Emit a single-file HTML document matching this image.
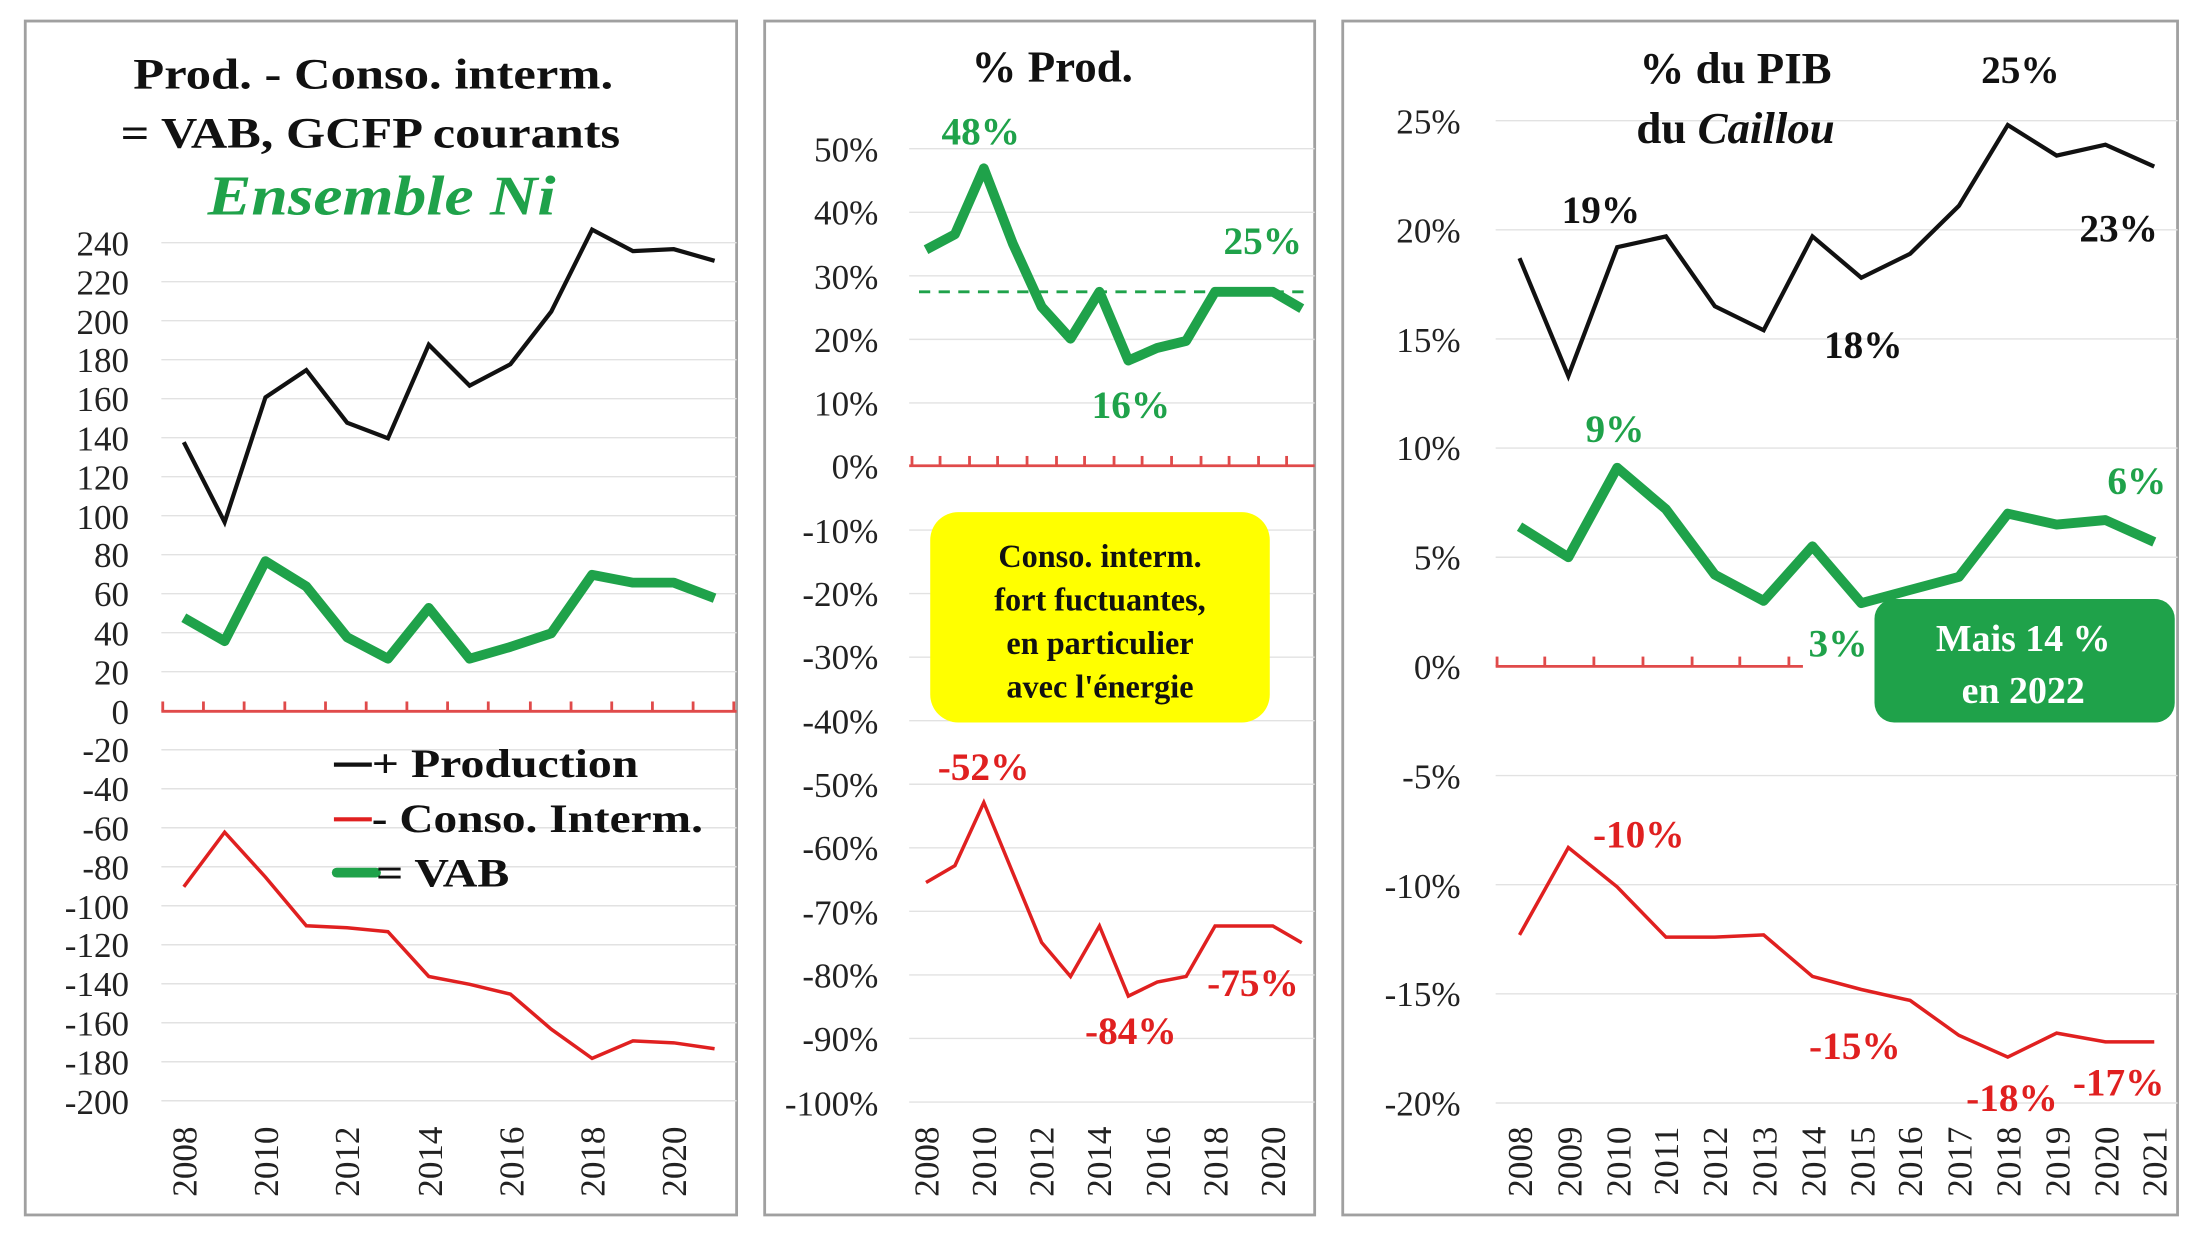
<!DOCTYPE html>
<html><head><meta charset="utf-8"><style>
html,body{margin:0;padding:0;background:#fff;}
svg{display:block;}
text{font-family:"Liberation Serif",serif;}
</style></head><body>
<svg width="2200" height="1236" viewBox="0 0 1568 881" preserveAspectRatio="none" xmlns="http://www.w3.org/2000/svg">
<rect width="1568" height="881" fill="#fff"/>
<rect x="18" y="15" width="507" height="851" fill="none" stroke="#a0a0a0" stroke-width="2"/>
<rect x="545" y="15" width="392" height="851" fill="none" stroke="#a0a0a0" stroke-width="2"/>
<rect x="957" y="15" width="595" height="851" fill="none" stroke="#a0a0a0" stroke-width="2"/>

<!-- ===== Panel 1 ===== -->
<g stroke="#e2e2e2" stroke-width="1">
<line x1="115" x2="525" y1="173" y2="173"/><line x1="115" x2="525" y1="200.8" y2="200.8"/><line x1="115" x2="525" y1="228.6" y2="228.6"/><line x1="115" x2="525" y1="256.4" y2="256.4"/><line x1="115" x2="525" y1="284.2" y2="284.2"/><line x1="115" x2="525" y1="312" y2="312"/><line x1="115" x2="525" y1="339.8" y2="339.8"/><line x1="115" x2="525" y1="367.6" y2="367.6"/><line x1="115" x2="525" y1="395.4" y2="395.4"/><line x1="115" x2="525" y1="423.2" y2="423.2"/><line x1="115" x2="525" y1="451" y2="451"/><line x1="115" x2="525" y1="478.8" y2="478.8"/><line x1="115" x2="525" y1="534.4" y2="534.4"/><line x1="115" x2="525" y1="562.2" y2="562.2"/><line x1="115" x2="525" y1="590" y2="590"/><line x1="115" x2="525" y1="617.8" y2="617.8"/><line x1="115" x2="525" y1="645.6" y2="645.6"/><line x1="115" x2="525" y1="673.4" y2="673.4"/><line x1="115" x2="525" y1="701.2" y2="701.2"/><line x1="115" x2="525" y1="729" y2="729"/><line x1="115" x2="525" y1="756.8" y2="756.8"/><line x1="115" x2="525" y1="784.6" y2="784.6"/>
</g>
<g stroke="#e04a4a" stroke-width="2">
<line x1="115" x2="525" y1="507" y2="507"/>
<line x1="116" x2="116" y1="500" y2="507"/><line x1="145" x2="145" y1="500" y2="507"/><line x1="174" x2="174" y1="500" y2="507"/><line x1="203" x2="203" y1="500" y2="507"/><line x1="232" x2="232" y1="500" y2="507"/><line x1="261" x2="261" y1="500" y2="507"/><line x1="290" x2="290" y1="500" y2="507"/><line x1="319" x2="319" y1="500" y2="507"/><line x1="348" x2="348" y1="500" y2="507"/><line x1="378" x2="378" y1="500" y2="507"/><line x1="407" x2="407" y1="500" y2="507"/><line x1="436" x2="436" y1="500" y2="507"/><line x1="465" x2="465" y1="500" y2="507"/><line x1="494" x2="494" y1="500" y2="507"/><line x1="523" x2="523" y1="500" y2="507"/>
</g>
<g font-size="25" text-anchor="end" fill="#222">
<text x="92" y="182">240</text><text x="92" y="210">220</text><text x="92" y="238">200</text><text x="92" y="265">180</text><text x="92" y="293">160</text><text x="92" y="321">140</text><text x="92" y="349">120</text><text x="92" y="377">100</text><text x="92" y="404">80</text><text x="92" y="432">60</text><text x="92" y="460">40</text><text x="92" y="488">20</text><text x="92" y="516">0</text><text x="92" y="543">-20</text><text x="92" y="571">-40</text><text x="92" y="599">-60</text><text x="92" y="627">-80</text><text x="92" y="655">-100</text><text x="92" y="682">-120</text><text x="92" y="710">-140</text><text x="92" y="738">-160</text><text x="92" y="766">-180</text><text x="92" y="794">-200</text>
</g>
<g font-size="25" fill="#222">
<text transform="translate(140,803) rotate(-90)" text-anchor="end">2008</text>
<text transform="translate(198,803) rotate(-90)" text-anchor="end">2010</text>
<text transform="translate(256,803) rotate(-90)" text-anchor="end">2012</text>
<text transform="translate(315,803) rotate(-90)" text-anchor="end">2014</text>
<text transform="translate(373,803) rotate(-90)" text-anchor="end">2016</text>
<text transform="translate(431,803) rotate(-90)" text-anchor="end">2018</text>
<text transform="translate(489,803) rotate(-90)" text-anchor="end">2020</text>
</g>
<polyline fill="none" stroke="#111" stroke-width="3" points="131,315.2 160.1,372.2 189.2,283.2 218.3,263.8 247.4,301.3 276.5,312.4 305.6,245.7 334.7,274.9 363.8,259.6 392.9,222.1 422,163.7 451.1,179 480.2,177.6 509.3,185.9"/>
<polyline fill="none" stroke="#1fa24a" stroke-width="7" stroke-linejoin="round" points="131,440.3 160.1,457 189.2,400 218.3,418 247.4,454.2 276.5,469.5 305.6,433.3 334.7,469.5 363.8,461.1 392.9,451.4 422,409.7 451.1,415.3 480.2,415.3 509.3,426.4"/>
<polyline fill="none" stroke="#e02020" stroke-width="2.5" points="131,632.1 160.1,593.2 189.2,625.2 218.3,659.9 247.4,661.3 276.5,664.1 305.6,696 334.7,701.6 363.8,708.6 392.9,733.6 422,754.4 451.1,741.9 480.2,743.3 509.3,747.5"/>
<g font-size="31" font-weight="bold" fill="#111">
<text x="95" y="63" textLength="342" lengthAdjust="spacingAndGlyphs">Prod.  - Conso. interm.</text>
<text x="86" y="105" textLength="356" lengthAdjust="spacingAndGlyphs">= VAB, GCFP courants</text>
</g>
<text x="148" y="153" font-size="40" font-weight="bold" font-style="italic" fill="#1fa24a" textLength="248" lengthAdjust="spacingAndGlyphs">Ensemble Ni</text>
<line x1="238" x2="265" y1="545" y2="545" stroke="#111" stroke-width="3"/>
<line x1="238" x2="265" y1="584" y2="584" stroke="#e02020" stroke-width="3"/>
<line x1="240" x2="268" y1="622" y2="622" stroke="#1fa24a" stroke-width="7" stroke-linecap="round"/>
<g font-size="29" font-weight="bold" fill="#111">
<text x="265" y="554" textLength="190" lengthAdjust="spacingAndGlyphs">+ Production</text>
<text x="265" y="593" textLength="236" lengthAdjust="spacingAndGlyphs">- Conso. Interm.</text>
<text x="268" y="632" textLength="95" lengthAdjust="spacingAndGlyphs">= VAB</text>
</g>

<!-- ===== Panel 2 ===== -->
<g stroke="#e2e2e2" stroke-width="1">
<line x1="648" x2="937" y1="106" y2="106"/><line x1="648" x2="937" y1="151.3" y2="151.3"/><line x1="648" x2="937" y1="196.6" y2="196.6"/><line x1="648" x2="937" y1="241.9" y2="241.9"/><line x1="648" x2="937" y1="287.2" y2="287.2"/><line x1="648" x2="937" y1="377.8" y2="377.8"/><line x1="648" x2="937" y1="423.1" y2="423.1"/><line x1="648" x2="937" y1="468.4" y2="468.4"/><line x1="648" x2="937" y1="513.7" y2="513.7"/><line x1="648" x2="937" y1="559" y2="559"/><line x1="648" x2="937" y1="604.3" y2="604.3"/><line x1="648" x2="937" y1="649.6" y2="649.6"/><line x1="648" x2="937" y1="694.9" y2="694.9"/><line x1="648" x2="937" y1="740.2" y2="740.2"/><line x1="648" x2="937" y1="785.5" y2="785.5"/>
</g>
<g stroke="#e04a4a" stroke-width="2">
<line x1="648" x2="937" y1="332" y2="332"/>
<line x1="650" x2="650" y1="325" y2="332"/><line x1="670" x2="670" y1="325" y2="332"/><line x1="691" x2="691" y1="325" y2="332"/><line x1="711" x2="711" y1="325" y2="332"/><line x1="732" x2="732" y1="325" y2="332"/><line x1="753" x2="753" y1="325" y2="332"/><line x1="773" x2="773" y1="325" y2="332"/><line x1="794" x2="794" y1="325" y2="332"/><line x1="814" x2="814" y1="325" y2="332"/><line x1="835" x2="835" y1="325" y2="332"/><line x1="856" x2="856" y1="325" y2="332"/><line x1="876" x2="876" y1="325" y2="332"/><line x1="897" x2="897" y1="325" y2="332"/><line x1="917" x2="917" y1="325" y2="332"/>
</g>
<g font-size="25" text-anchor="end" fill="#222">
<text x="626" y="115">50%</text><text x="626" y="160">40%</text><text x="626" y="206">30%</text><text x="626" y="251">20%</text><text x="626" y="296">10%</text><text x="626" y="341">0%</text><text x="626" y="387">-10%</text><text x="626" y="432">-20%</text><text x="626" y="477">-30%</text><text x="626" y="523">-40%</text><text x="626" y="568">-50%</text><text x="626" y="613">-60%</text><text x="626" y="659">-70%</text><text x="626" y="704">-80%</text><text x="626" y="749">-90%</text><text x="626" y="795">-100%</text>
</g>
<g font-size="25" fill="#222">
<text transform="translate(669,803) rotate(-90)" text-anchor="end">2008</text>
<text transform="translate(710,803) rotate(-90)" text-anchor="end">2010</text>
<text transform="translate(751,803) rotate(-90)" text-anchor="end">2012</text>
<text transform="translate(792,803) rotate(-90)" text-anchor="end">2014</text>
<text transform="translate(834,803) rotate(-90)" text-anchor="end">2016</text>
<text transform="translate(875,803) rotate(-90)" text-anchor="end">2018</text>
<text transform="translate(916,803) rotate(-90)" text-anchor="end">2020</text>
</g>
<line x1="655" x2="930" y1="208" y2="208" stroke="#1fa24a" stroke-width="2" stroke-dasharray="8,6"/>
<polyline fill="none" stroke="#1fa24a" stroke-width="7" stroke-linejoin="round" points="660,178 680.6,167 701.2,120 721.8,173.5 742.4,218.7 763,241.4 783.6,208 804.2,257 824.8,248 845.4,243 866,208 886.6,208 907.2,208 927.8,220"/>
<polyline fill="none" stroke="#e02020" stroke-width="2.5" points="660,629 680.6,617 701.2,572 721.8,622 742.4,671.8 763,696 783.6,660 804.2,710 824.8,700 845.4,696 866,660 886.6,660 907.2,660 927.8,672"/>
<g font-size="28" font-weight="bold" fill="#1fa24a" text-anchor="middle">
<text x="699" y="103">48%</text><text x="806" y="298">16%</text><text x="900" y="181">25%</text>
</g>
<g font-size="28" font-weight="bold" fill="#e02020" text-anchor="middle">
<text x="701" y="556">-52%</text><text x="806" y="744">-84%</text><text x="893" y="710">-75%</text>
</g>
<text x="750" y="58" font-size="32" font-weight="bold" fill="#111" text-anchor="middle">% Prod.</text>
<rect x="663" y="365" width="242" height="150" rx="20" fill="#ffff00"/>
<g font-size="23" font-weight="bold" fill="#111" text-anchor="middle">
<text x="784" y="404">Conso. interm.</text>
<text x="784" y="435">fort fuctuantes,</text>
<text x="784" y="466">en particulier</text>
<text x="784" y="497">avec l'énergie</text>
</g>

<!-- ===== Panel 3 ===== -->
<g stroke="#e2e2e2" stroke-width="1">
<line x1="1066" x2="1552" y1="86" y2="86"/><line x1="1066" x2="1552" y1="163.8" y2="163.8"/><line x1="1066" x2="1552" y1="241.6" y2="241.6"/><line x1="1066" x2="1552" y1="319.4" y2="319.4"/><line x1="1066" x2="1552" y1="397.2" y2="397.2"/><line x1="1066" x2="1552" y1="552.8" y2="552.8"/><line x1="1066" x2="1552" y1="630.6" y2="630.6"/><line x1="1066" x2="1552" y1="708.4" y2="708.4"/><line x1="1066" x2="1552" y1="786.2" y2="786.2"/>
</g>
<g stroke="#e04a4a" stroke-width="2">
<line x1="1066" x2="1285" y1="475" y2="475"/>
<line x1="1067" x2="1067" y1="468" y2="475"/><line x1="1101" x2="1101" y1="468" y2="475"/><line x1="1136" x2="1136" y1="468" y2="475"/><line x1="1171" x2="1171" y1="468" y2="475"/><line x1="1206" x2="1206" y1="468" y2="475"/><line x1="1240" x2="1240" y1="468" y2="475"/><line x1="1275" x2="1275" y1="468" y2="475"/>
</g>
<g font-size="25" text-anchor="end" fill="#222">
<text x="1041" y="95">25%</text><text x="1041" y="173">20%</text><text x="1041" y="251">15%</text><text x="1041" y="328">10%</text><text x="1041" y="406">5%</text><text x="1041" y="484">0%</text><text x="1041" y="562">-5%</text><text x="1041" y="640">-10%</text><text x="1041" y="717">-15%</text><text x="1041" y="795">-20%</text>
</g>
<g font-size="25" fill="#222">
<text transform="translate(1092,803) rotate(-90)" text-anchor="end">2008</text>
<text transform="translate(1127,803) rotate(-90)" text-anchor="end">2009</text>
<text transform="translate(1162,803) rotate(-90)" text-anchor="end">2010</text>
<text transform="translate(1196,803) rotate(-90)" text-anchor="end">2011</text>
<text transform="translate(1231,803) rotate(-90)" text-anchor="end">2012</text>
<text transform="translate(1266,803) rotate(-90)" text-anchor="end">2013</text>
<text transform="translate(1301,803) rotate(-90)" text-anchor="end">2014</text>
<text transform="translate(1336,803) rotate(-90)" text-anchor="end">2015</text>
<text transform="translate(1370,803) rotate(-90)" text-anchor="end">2016</text>
<text transform="translate(1405,803) rotate(-90)" text-anchor="end">2017</text>
<text transform="translate(1440,803) rotate(-90)" text-anchor="end">2018</text>
<text transform="translate(1475,803) rotate(-90)" text-anchor="end">2019</text>
<text transform="translate(1510,803) rotate(-90)" text-anchor="end">2020</text>
<text transform="translate(1544,803) rotate(-90)" text-anchor="end">2021</text>
</g>
<polyline fill="none" stroke="#111" stroke-width="3" points="1083,184 1117.8,268 1152.6,176.2 1187.4,168.5 1222.2,218.3 1257,235.4 1291.8,168.5 1326.6,198 1361.4,180.9 1396.2,146.7 1431,89.1 1465.8,110.9 1500.6,103.1 1535.4,118.7"/>
<polyline fill="none" stroke="#1fa24a" stroke-width="7" stroke-linejoin="round" points="1083,375.4 1117.8,397.2 1152.6,333.4 1187.4,363 1222.2,409.6 1257,428.3 1291.8,389.4 1326.6,429.9 1361.4,420.5 1396.2,411.2 1431,366.1 1465.8,373.9 1500.6,370.7 1535.4,386.3"/>
<polyline fill="none" stroke="#e02020" stroke-width="2.5" points="1083,666.4 1117.8,604.1 1152.6,632.2 1187.4,668 1222.2,668 1257,666.4 1291.8,696 1326.6,705.3 1361.4,713.1 1396.2,738 1431,753.5 1465.8,736.4 1500.6,742.6 1535.4,742.6"/>
<g font-size="32" font-weight="bold" fill="#111" text-anchor="middle">
<text x="1237" y="59">% du PIB</text>
<text x="1237" y="102">du <tspan font-style="italic">Caillou</tspan></text>
</g>
<g font-size="28" font-weight="bold" fill="#111" text-anchor="middle">
<text x="1141" y="159">19%</text><text x="1328" y="255">18%</text><text x="1440" y="59">25%</text><text x="1510" y="172">23%</text>
</g>
<g font-size="28" font-weight="bold" fill="#1fa24a" text-anchor="middle">
<text x="1151" y="315">9%</text><text x="1310" y="468">3%</text><text x="1523" y="352">6%</text>
</g>
<g font-size="28" font-weight="bold" fill="#e02020" text-anchor="middle">
<text x="1168" y="604">-10%</text><text x="1322" y="755">-15%</text><text x="1434" y="792">-18%</text><text x="1510" y="781">-17%</text>
</g>
<rect x="1336" y="427" width="214" height="88" rx="14" fill="#1fa24a"/>
<g font-size="27" font-weight="bold" fill="#fff" text-anchor="middle">
<text x="1442" y="464">Mais 14 %</text>
<text x="1442" y="501">en 2022</text>
</g>
</svg>
</body></html>
